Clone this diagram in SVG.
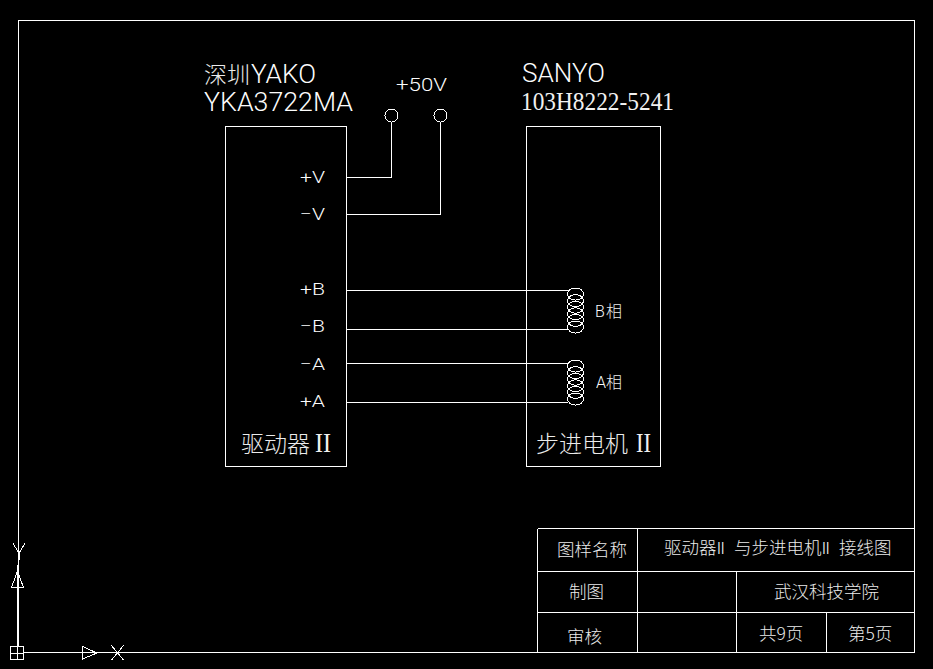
<svg xmlns="http://www.w3.org/2000/svg" width="933" height="669" viewBox="0 0 933 669">
<style>
.l{fill:none;stroke:#fff;stroke-width:1;shape-rendering:crispEdges}
.c{fill:none;stroke:#fff;stroke-width:1;shape-rendering:crispEdges}
.a{font-family:"Roboto","Liberation Sans",sans-serif;font-weight:300;fill:#fff;opacity:.99}
.s{font-family:"Liberation Serif",serif;fill:#f4f4f4;opacity:.99}
.z{font-family:"Noto Sans CJK SC",sans-serif;font-weight:300;fill:#eee;opacity:.99}
</style>
<defs>
<g id="coil"><ellipse class="c" cx="575.500" cy="6" rx="8" ry="6"/><ellipse class="c" cx="575.500" cy="12.600" rx="8" ry="6"/><ellipse class="c" cx="575.500" cy="19.200" rx="8" ry="6"/><ellipse class="c" cx="575.500" cy="25.800" rx="8" ry="6"/><ellipse class="c" cx="575.500" cy="32.400" rx="8" ry="6"/><ellipse class="c" cx="575.500" cy="39" rx="8" ry="6"/></g>
</defs>
<rect width="933" height="669" fill="#000"/>
<g id="frame"><path class="l" d="M24 652.500H914.500V20.500H18.500V646"/></g>
<g id="ucs-icon">
<path class="l" d="M17.500 565V646"/>
<rect class="l" x="10.500" y="646.500" width="13" height="13"/>
<path class="l" d="M17.500 646.500V659.500M10.500 653.500H23.500"/>
<path class="c" d="M11.500 587.500H23.500L17.500 571Z M82.500 646.500V659L97 653Z"/>
<path class="c" d="M13 543.500L19 553L25 543.500M19 553V560M111.500 645.500L123.500 660M123.500 645.500L111.500 660"/>
</g>
<g id="driver"><rect class="l" x="225.500" y="126.500" width="121" height="340"/>
<text class="z" x="241" y="452" font-size="23">驱动器</text><text class="s" x="315" y="452" font-size="27" textLength="16" lengthAdjust="spacingAndGlyphs">II</text>
<text class="a" x="300" y="183" font-size="17" textLength="25" lengthAdjust="spacingAndGlyphs">+V</text>
<text class="a" x="300" y="220" font-size="17" textLength="25" lengthAdjust="spacingAndGlyphs">−V</text>
<text class="a" x="300" y="295" font-size="17" textLength="25" lengthAdjust="spacingAndGlyphs">+B</text>
<text class="a" x="300" y="332" font-size="17" textLength="25" lengthAdjust="spacingAndGlyphs">−B</text>
<text class="a" x="300" y="370" font-size="17" textLength="25" lengthAdjust="spacingAndGlyphs">−A</text>
<text class="a" x="300" y="407" font-size="17" textLength="25" lengthAdjust="spacingAndGlyphs">+A</text>
</g>
<g id="motor"><rect class="l" x="526.500" y="126.500" width="134" height="340"/>
<text class="z" x="536" y="452" font-size="23">步进电机</text><text class="s" x="636" y="452" font-size="27" textLength="15" lengthAdjust="spacingAndGlyphs">II</text>
</g>
<g id="driver-title"><text class="z" x="204" y="83" font-size="23">深圳</text><text class="a" x="251" y="83" font-size="25" textLength="65" lengthAdjust="spacingAndGlyphs">YAKO</text>
<text class="a" x="204" y="111" font-size="25" textLength="149" lengthAdjust="spacingAndGlyphs">YKA3722MA</text></g>
<g id="motor-title"><text class="a" x="522" y="82" font-size="25" textLength="83" lengthAdjust="spacingAndGlyphs">SANYO</text>
<text class="s" x="521" y="110" font-size="25" textLength="153" lengthAdjust="spacingAndGlyphs">103H8222-5241</text></g>
<g id="supply"><text class="a" x="396" y="91" font-size="18" textLength="51" lengthAdjust="spacingAndGlyphs">+50V</text>
<circle class="c" cx="391.500" cy="115.500" r="6.500"/><circle class="c" cx="440.500" cy="115.500" r="6.500"/></g>
<g id="connectors">
<path class="l" d="M346.500 177.500H391.500V122M346.500 214.500H440.500V122M346.500 290.500H568M346.500 329.500H568M346.500 363.500H568M346.500 402.500H568"/>
</g>
<g id="coil-b"><use href="#coil" y="288"/><text class="a" x="595" y="317" font-size="16">B</text><text class="z" x="606" y="317" font-size="16">相</text></g>
<g id="coil-a"><use href="#coil" y="360"/><text class="a" x="596" y="388" font-size="16">A</text><text class="z" x="606" y="388" font-size="16">相</text></g>
<g id="title-block">
<path class="l" d="M537.500 528.500H914.500M537.500 528.500V652.500M637.500 528.500V652.500M537.500 571.500H914.500M537.500 612.500H914.500M736.500 571.500V652.500M826.500 612.500V652.500"/>
<text class="z" x="557" y="556" font-size="17.500">图样名称</text>
<text class="z" x="664" y="554" font-size="17.500">驱动器</text><text class="a" x="717" y="554" font-size="17">ll</text>
<text class="z" x="734" y="554" font-size="17.500">与步进电机</text><text class="a" x="822" y="554" font-size="17">ll</text>
<text class="z" x="839" y="554" font-size="17.500">接线图</text>
<text class="z" x="569" y="598" font-size="17.500">制图</text>
<text class="z" x="774" y="598" font-size="17.500">武汉科技学院</text>
<text class="z" x="567" y="643" font-size="17.500">审核</text>
<text class="z" x="759" y="640" font-size="17.500">共9页</text>
<text class="z" x="848" y="640" font-size="17.500">第5页</text>
</g>
</svg>
